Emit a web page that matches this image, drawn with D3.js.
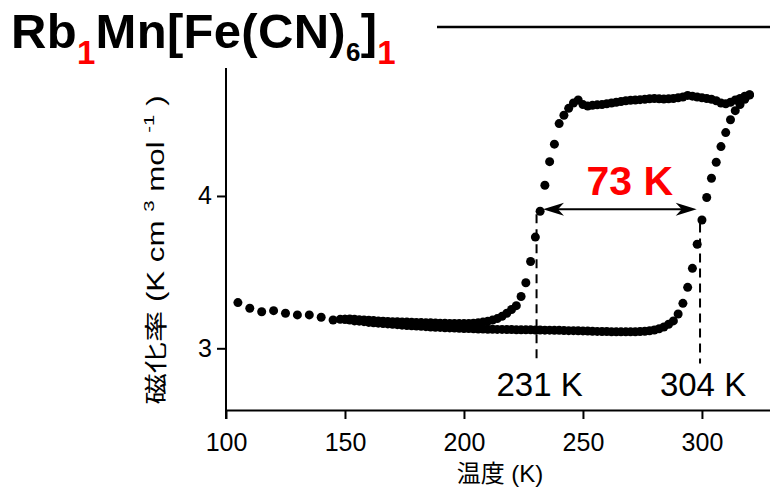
<!DOCTYPE html>
<html><head><meta charset="utf-8">
<script src="https://cdn.jsdelivr.net/npm/d3@7/dist/d3.min.js"></script>
<style>
html,body{margin:0;padding:0;background:#fff;}
svg{display:block;}
</style></head>
<body>
<svg id="chart" width="770" height="490"></svg>
<script>
// ---------- data ----------
const heatT = [150,152,154,156,158,160,162,164,166,168,170,172,174,176,178,180,182,184,186,188,190,192,194,196,198,200,202,204,206,208,210,212,214,216,218,220,222,224,226,228,230,232,234,236,238,240,242,244,246,248,250,252,254,256,258,260,262,264,266,268,270,272,274,276,278,280,282,284,286,288,290,292,294,296,298,300,302,304,306,308,310,312,314,316,318,320];
const heatV = [3.19,3.185,3.18,3.178,3.175,3.17,3.168,3.165,3.162,3.16,3.158,3.155,3.152,3.15,3.148,3.146,3.144,3.142,3.14,3.138,3.137,3.135,3.134,3.133,3.132,3.13,3.13,3.128,3.127,3.126,3.125,3.125,3.124,3.124,3.123,3.123,3.122,3.122,3.121,3.121,3.12,3.12,3.119,3.119,3.118,3.118,3.117,3.116,3.116,3.115,3.114,3.113,3.112,3.111,3.11,3.11,3.109,3.108,3.108,3.108,3.108,3.109,3.11,3.112,3.115,3.12,3.128,3.14,3.158,3.18,3.225,3.295,3.40,3.525,3.683,3.842,3.99,4.116,4.221,4.324,4.416,4.50,4.56,4.60,4.635,4.663];

const coolT = [320,318,316,314,312,310,308,306,304,302,300,298,296,294,292,290,288,286,284,282,280,278,276,274,272,270,268,266,264,262,260,258,256,254,252,250,248,246,244,242,240,238,236,234,232,230,228,226,224,222,220,218,216,214,212,210,208,206,204,202,200,198,196,194,192,190,188,186,184,182,180,178,176,174,172,170,168,166,164,162,160,158,156,154,152,150,148,145,140,135,130,125,120,115,110,105];
const coolV = [4.665,4.655,4.64,4.63,4.615,4.605,4.61,4.625,4.635,4.64,4.645,4.65,4.655,4.66,4.65,4.645,4.64,4.638,4.636,4.638,4.64,4.638,4.635,4.632,4.63,4.628,4.625,4.62,4.615,4.61,4.605,4.60,4.598,4.595,4.59,4.60,4.63,4.61,4.575,4.53,4.475,4.34,4.225,4.07,3.90,3.73,3.57,3.43,3.34,3.28,3.255,3.23,3.21,3.195,3.185,3.178,3.172,3.168,3.165,3.163,3.162,3.162,3.163,3.163,3.164,3.165,3.166,3.167,3.168,3.169,3.17,3.171,3.172,3.173,3.174,3.175,3.176,3.178,3.18,3.182,3.184,3.186,3.188,3.19,3.192,3.19,3.19,3.186,3.204,3.219,3.219,3.23,3.247,3.24,3.263,3.30];

const xTicks = [100,150,200,250,300];
const yTicks = [3,4];
const transitionT = [230.5, 299.2];           // dashed marker positions
const transitionLabels = ["231 K", "304 K"];
const arrowT = [233.2, 297.8];
const arrowV = 3.913;
const widthLabel = "73 K";

// ---------- layout ----------
const svg = d3.select("#chart");
const latin = "'Liberation Sans', Arial, Helvetica, sans-serif";
const cjk = "'Noto Sans CJK JP', 'Noto Sans CJK SC', sans-serif";

const x = d3.scaleLinear().domain([100, 328.6]).range([226, 770]);
const y = d3.scaleLinear().domain([2.595, 4.84]).range([410, 68]);

// title
const title = svg.append("text").attr("x", 11).attr("y", 48)
  .attr("font-family", latin).attr("font-weight", "bold").attr("font-size", 49)
  .attr("letter-spacing", 0.3).attr("fill", "#000");
title.append("tspan").text("Rb");
title.append("tspan").attr("fill", "#f00").attr("font-size", 33).attr("dy", 16).text("1");
title.append("tspan").attr("dy", -16).text("Mn[Fe(CN)");
title.append("tspan").attr("font-size", 26).attr("dy", 13).text("6");
title.append("tspan").attr("dy", -13).text("]");
title.append("tspan").attr("fill", "#f00").attr("font-size", 33).attr("dy", 16).text("1");

svg.append("line").attr("x1", 437).attr("x2", 770).attr("y1", 27).attr("y2", 27)
  .attr("stroke", "#000").attr("stroke-width", 2.5);

// axes
const gx = svg.append("g").attr("transform", "translate(0,410)")
  .call(d3.axisBottom(x).tickValues(xTicks).tickSize(9).tickSizeOuter(0).tickPadding(14).tickFormat(d3.format("d")));
gx.select(".domain").attr("stroke-width", 2);
gx.selectAll(".tick line").attr("stroke-width", 2);
gx.selectAll(".tick text").attr("font-family", latin).attr("font-size", 25).attr("fill", "#000");

const gy = svg.append("g").attr("transform", "translate(226,0)")
  .call(d3.axisLeft(y).tickValues(yTicks).tickSize(9).tickSizeOuter(0).tickPadding(5).tickFormat(d3.format("d")));
gy.select(".domain").remove();
gy.selectAll(".tick line").attr("stroke-width", 2);
gy.selectAll(".tick text").attr("font-family", latin).attr("font-size", 25).attr("fill", "#000");
svg.append("line").attr("x1", 226).attr("x2", 226).attr("y1", y.range()[1]).attr("y2", 419)
  .attr("stroke", "#000").attr("stroke-width", 2);

// axis titles
svg.append("text").attr("x", 500).attr("y", 482).attr("text-anchor", "middle")
  .attr("font-size", 24).attr("fill", "#000")
  .call(t => {
    t.append("tspan").attr("font-family", cjk).text("温度");
    t.append("tspan").attr("font-family", latin).text(" (K)");
  });

const yl = svg.append("text").attr("transform", "translate(164,250) rotate(-90) scale(1.36,1)")
  .attr("text-anchor", "middle").attr("font-size", 23).attr("font-family", latin).attr("fill", "#000");
yl.append("tspan").attr("font-family", cjk).attr("fill", "#000").text("磁化率");
yl.append("tspan").text(" (K cm ");
yl.append("tspan").attr("font-size", 15).attr("dy", -10).text("3");
yl.append("tspan").attr("dy", 10).text(" mol ");
yl.append("tspan").attr("font-size", 15).attr("dy", -10).text("-1");
yl.append("tspan").attr("dy", 10).text(" )");

// data points
const pts = heatT.map((t, i) => [t, heatV[i]]).concat(coolT.map((t, i) => [t, coolV[i]]));
svg.append("g").selectAll("circle").data(pts).join("circle")
  .attr("cx", d => x(d[0])).attr("cy", d => y(d[1])).attr("r", 4.5).attr("fill", "#000");

// annotations
svg.append("g").selectAll("line").data(transitionT).join("line")
  .attr("x1", d => x(d)).attr("x2", d => x(d))
  .attr("y1", (d, i) => i === 0 ? y(3.88) : y(3.82)).attr("y2", y(2.9))
  .attr("stroke", "#000").attr("stroke-width", 2).attr("stroke-dasharray", "9,6");

svg.append("g").selectAll("text").data(transitionLabels).join("text")
  .attr("x", (d, i) => x(transitionT[i]) + 3).attr("y", 396).attr("text-anchor", "middle")
  .attr("font-family", latin).attr("font-size", 33).attr("fill", "#000").text(d => d);

const ax1 = x(arrowT[0]), ax2 = x(arrowT[1]), ay = y(arrowV);
svg.append("line").attr("x1", ax1 + 10).attr("x2", ax2 - 10).attr("y1", ay).attr("y2", ay)
  .attr("stroke", "#000").attr("stroke-width", 2);
svg.append("path").attr("d", `M${ax1},${ay} L${ax1 + 21},${ay - 6.5} L${ax1 + 15},${ay} L${ax1 + 21},${ay + 6.5} Z`).attr("fill", "#000");
svg.append("path").attr("d", `M${ax2},${ay} L${ax2 - 21},${ay - 6.5} L${ax2 - 15},${ay} L${ax2 - 21},${ay + 6.5} Z`).attr("fill", "#000");

svg.append("text").attr("x", (ax1 + ax2) / 2 + 10).attr("y", 195).attr("text-anchor", "middle")
  .attr("font-family", latin).attr("font-weight", "bold").attr("font-size", 41).attr("fill", "#f00")
  .text(widthLabel);
</script>
</body></html>
